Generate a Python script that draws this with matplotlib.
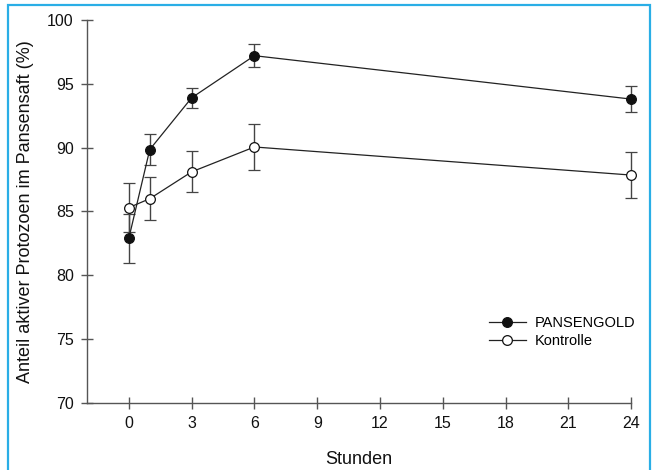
import matplotlib
matplotlib.use("Agg")
import matplotlib.pyplot as plt
from matplotlib.patches import Rectangle

plt.rcParams['font.family'] = ['Liberation Sans', 'DejaVu Sans']

# Messzeitpunkte (Stunden)
stunden = [0, 1, 3, 6, 24]

# Anteil aktiver Protozoen (%) und Fehlerbalken
pansengold = [82.9, 89.85, 93.9, 97.2, 93.8]
pansengold_err = [1.9, 1.25, 0.8, 0.9, 1.0]
kontrolle = [85.3, 86.0, 88.1, 90.05, 87.85]
kontrolle_err = [1.9, 1.7, 1.6, 1.8, 1.8]

xticks = [0, 3, 6, 9, 12, 15, 18, 21, 24]
yticks = [70, 75, 80, 85, 90, 95, 100]

fig = plt.figure(figsize=(6.54, 4.70), dpi=100)
ax = fig.add_axes([0.133, 0.1426, 0.832, 0.815])

linie = '#222222'
achse = '#555555'

for werte, fehler, fuell, name in [(pansengold, pansengold_err, '#111111', 'PANSENGOLD'),
                                   (kontrolle, kontrolle_err, 'white', 'Kontrolle')]:
    cont = ax.errorbar(stunden, werte, yerr=fehler, color=linie, lw=0.9,
                       ecolor='#444444', elinewidth=1.0, capsize=4, capthick=1.0,
                       marker='o', ms=7, mfc=fuell, mec='#111111', mew=0.9,
                       label=name, zorder=3)
    for art in [cont[0], *cont[1], *cont[2]]:
        art.set_clip_on(False)

ax.set_xlim(-2, 24)
ax.set_ylim(70, 100)
ax.set_xticks(xticks)
ax.set_yticks(yticks)

for side in ['top', 'right']:
    ax.spines[side].set_visible(False)
for side in ['left', 'bottom']:
    ax.spines[side].set_color(achse)
    ax.spines[side].set_linewidth(1.0)

ax.tick_params(direction='inout', length=9, width=1.0, color=achse,
               labelsize=11.5, labelcolor='#111111', pad=5)

ax.set_xlabel('Stunden', fontsize=13, color='#111111')
ax.set_ylabel('Anteil aktiver Protozoen im Pansensaft (%)', fontsize=13, color='#111111')
ax.xaxis.set_label_coords(0.5, -0.125)
ax.yaxis.set_label_coords(-0.097, 0.5)

# Legende ohne Fehlerbalken
h, l = ax.get_legend_handles_labels()
h = [x[0] for x in h]
ax.legend(h, l, loc='center left', bbox_to_anchor=(0.739, 0.185), frameon=False,
          fontsize=10.5, handlelength=2.5, handletextpad=0.6, labelspacing=0.3,
          borderpad=0, borderaxespad=0)

# blauer Rahmen
fig.patches.append(Rectangle((8 / 654, -0.05), 642 / 654, 1 - 5 / 470 + 0.05,
                             transform=fig.transFigure, fill=False,
                             edgecolor='#2aaee6', lw=1.6, zorder=0))

fig.savefig('out.png', dpi=100)
